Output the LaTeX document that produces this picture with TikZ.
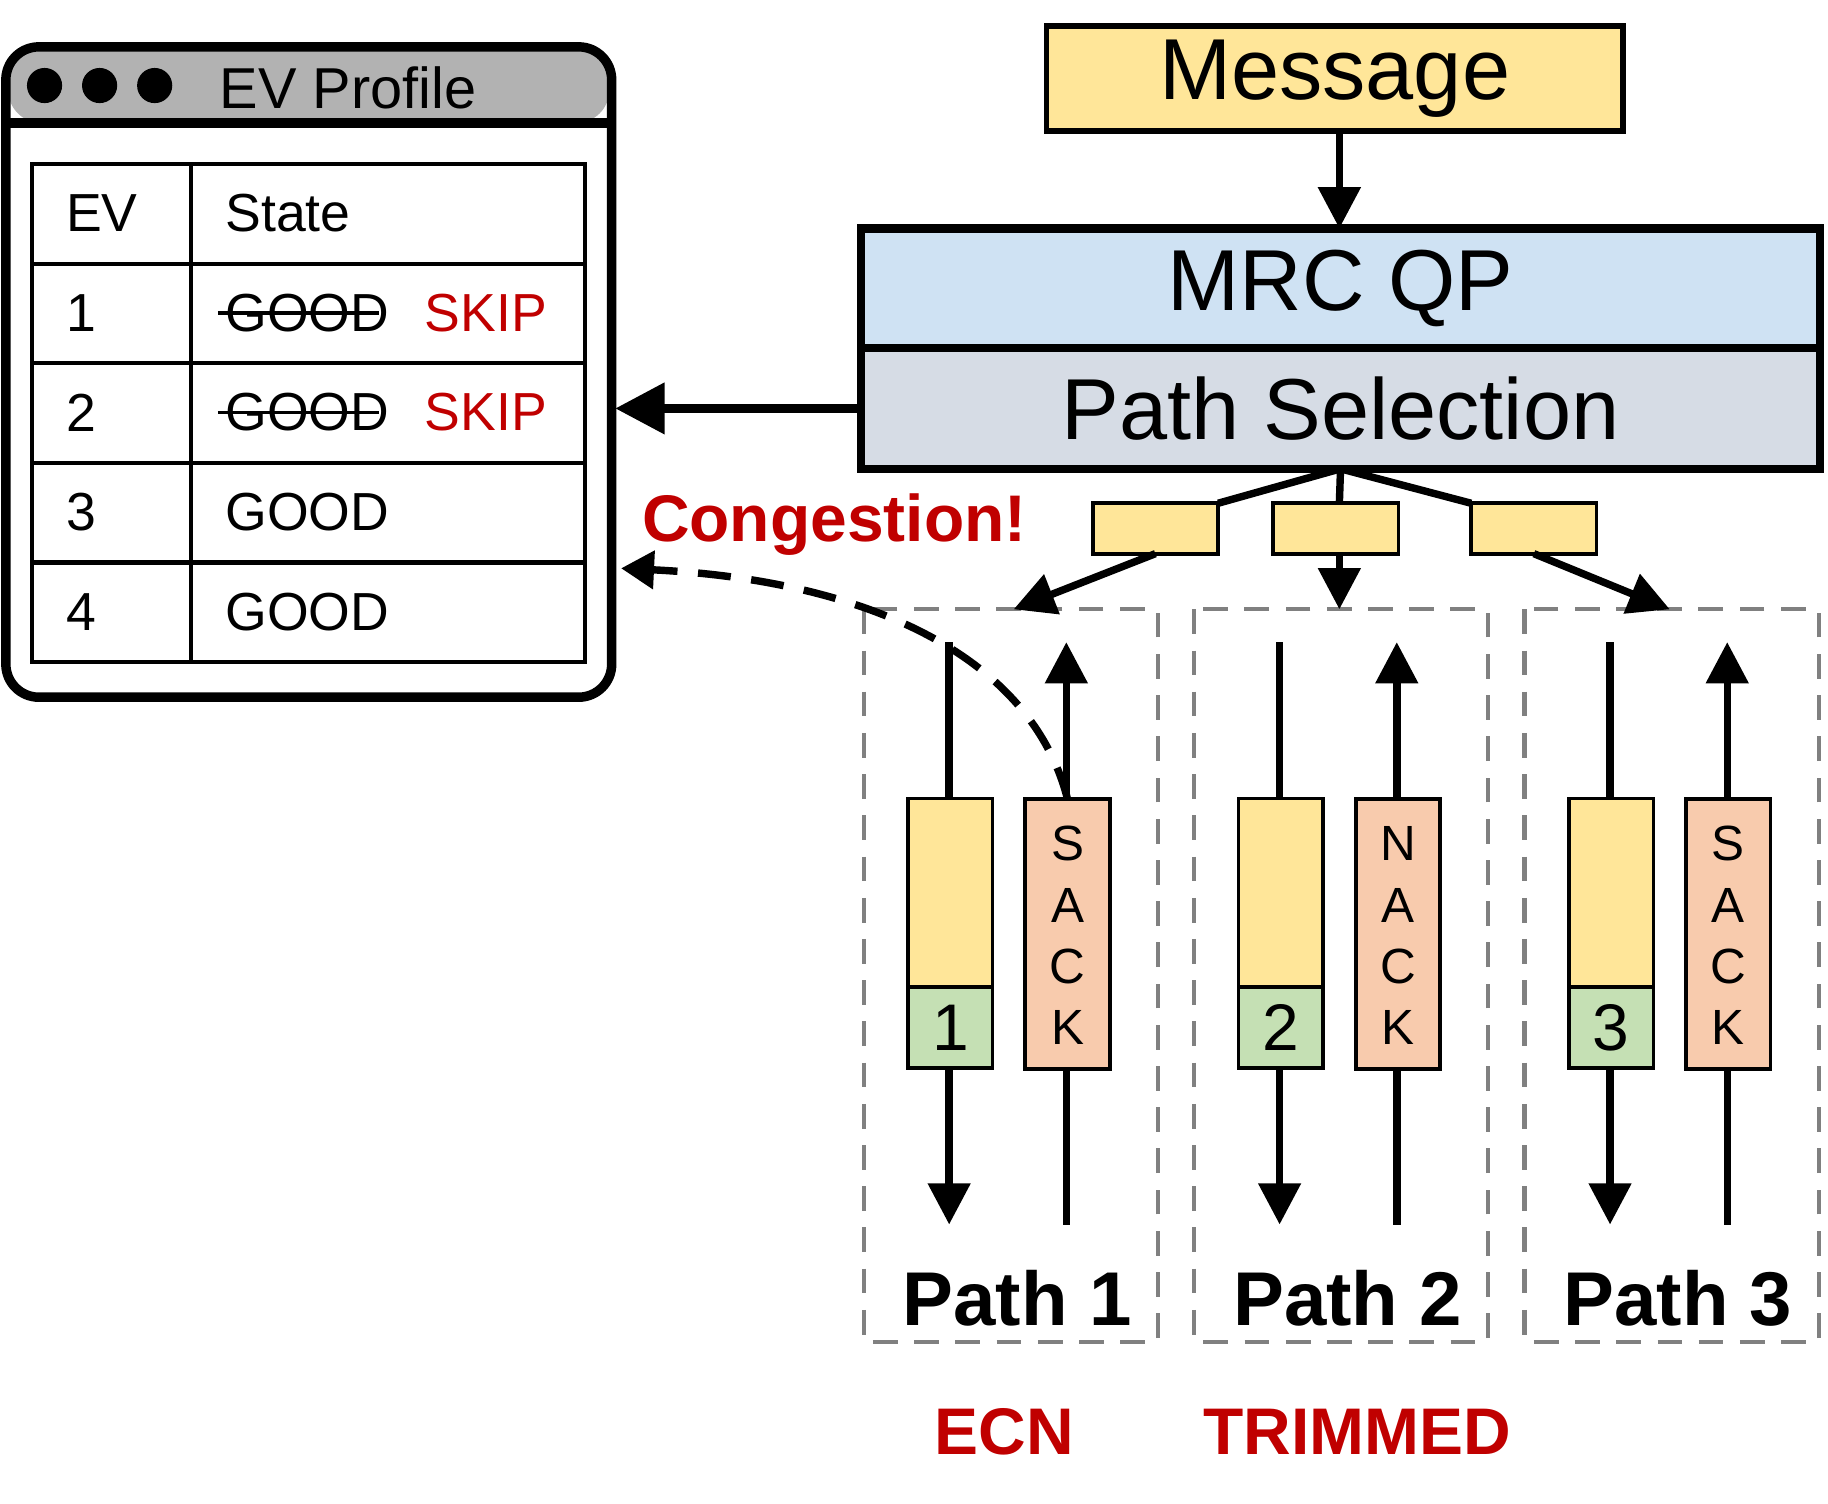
\documentclass[tikz,border=0pt]{standalone}
\usepackage{fontspec}
\setmainfont{Liberation Sans}
\usetikzlibrary{arrows.meta,positioning}
\definecolor{msgyellow}{HTML}{FFE699}
\definecolor{qpblue}{HTML}{CFE2F3}
\definecolor{selgray}{HTML}{D6DCE5}
\definecolor{seqgreen}{HTML}{C5E0B4}
\definecolor{ackorange}{HTML}{F8CBAD}
\definecolor{alertred}{HTML}{C00000}
\tikzset{
  cell/.style={anchor=west,font=\fontsize{13}{15}\selectfont},
  pkt/.style={draw,line width=0.9pt,minimum width=0.72cm,inner sep=0pt,outer sep=0pt},
  flow/.style={line width=1.8pt,-{Triangle[length=10pt,width=10pt]}},
  pathbox/.style={draw=gray,dashed,line width=1pt,dash pattern=on 6pt off 4pt},
  big/.style={font=\fontsize{21}{25}\selectfont,outer sep=0pt},
}
\begin{document}
\begin{tikzpicture}[x=0.01cm,y=-0.01cm]
 \useasboundingbox (0,0) rectangle (1560,1283);

 % EV profile window
 \fill[gray!60,rounded corners=8pt] (7,42) rectangle (520,105);
 \draw[line width=2.3pt] (5,105) -- (522,105);
 \draw[line width=2.3pt,rounded corners=8pt] (5,40) rectangle (522,595);
 \foreach \x in {38,85,132} \fill (\x,73) circle (15);
 \node[font=\fontsize{14}{16}\selectfont] (title) at (297,75) {EV Profile};

 % table
 \draw[line width=1pt] (27,140) rectangle (499,565);
 \draw[line width=1pt] (163,140) -- (163,565);
 \foreach \y in {225,310,395,480} \draw[line width=1pt] (27,\y) -- (499,\y);
 \node[cell] (hev) at (44,182) {EV};
 \node[cell] (hst) at (180,182) {State};
 \foreach \i/\y in {1/267,2/352,3/437,4/522} \node[cell] (ev\i) at (44,\y) {\i};
 \foreach \i/\y in {1/267,2/352} {
   \node[cell] (old\i) at (180,\y) {GOOD};
   \draw[line width=0.9pt] (old\i.west) ++(6,0) -- ([xshift=-6pt]old\i.east);
   \node[cell,text=alertred] (new\i) at (350,\y) {SKIP};
 }
 \foreach \i/\y in {3/437,4/522} \node[cell] (st\i) at (180,\y) {GOOD};

 % message and QP
 \node[draw,line width=1.3pt,fill=msgyellow,minimum width=4.92cm,minimum height=0.81cm,big] (msg) at (1139,67) {Message};
 \node[draw,line width=2pt,fill=qpblue,minimum width=8.18cm,minimum height=1.02cm,big] (qp) at (1144,246) {MRC QP};
 \node[draw,line width=2pt,fill=selgray,minimum width=8.18cm,minimum height=1.03cm,big,below=0pt of qp] (sel) {Path Selection};
 \draw[flow] (msg.south -| 1143,0) -- (qp.north -| 1143,0);
 \draw[line width=2.3pt,-{Triangle[length=12pt,width=12pt]}] (sel.west) -- (sel.west -| 525,0);

 % split packets
 \foreach \n/\x in {a/986,b/1140,c/1309}
   \node[pkt,fill=msgyellow,minimum width=1.07cm,minimum height=0.43cm] (sp\n) at (\x,451) {};
 \draw[line width=1.8pt] (sel.south) -- (spa.north east);
 \draw[line width=1.8pt] (sel.south) -- (spb.north -| 1143,0);
 \draw[line width=1.8pt] (sel.south) -- (spc.north west);

 % paths
 \foreach \k/\dx in {1/0,2/282,3/564} {
   \draw[pathbox] (737+\dx,520) rectangle (988+\dx,1145);
   \node[font=\fontsize{18.5}{22}\selectfont\bfseries] (plab\k) at (868+\dx,1108) {Path \k};
   \node[pkt,fill=msgyellow,minimum height=1.61cm] (data\k) at (811+\dx,762) {};
   \node[pkt,fill=seqgreen,minimum height=0.69cm,font=\fontsize{16}{18}\selectfont,below=0pt of data\k] (seq\k) {\k};
   \node[pkt,fill=ackorange,minimum height=2.30cm] (ack\k) at (911+\dx,797) {};
   \coordinate (dtop\k) at (810+\dx,548);
   \coordinate (dbot\k) at (810+\dx,1045);
   \coordinate (atop\k) at (910+\dx,548);
   \coordinate (abot\k) at (910+\dx,1045);
   \draw[line width=1.8pt] (dtop\k) -- (data\k.north -| dtop\k);
   \draw[flow] (seq\k.south -| dtop\k) -- (dbot\k);
   \draw[line width=1.8pt] (abot\k) -- (ack\k.south -| abot\k);
   \draw[flow] (ack\k.north -| atop\k) -- (atop\k);
 }
 \foreach \k/\a/\b/\c/\d in {1/S/A/C/K,2/N/A/C/K,3/S/A/C/K}
   \foreach \l/\y in {\a/720,\b/773,\c/825,\d/877}
     \node[font=\fontsize{12}{14}\selectfont] at (ack\k.north |- 0,\y) {\l};

 \draw[flow] (spa.south) -- (865,520);
 \draw[flow] (spb.south -| 1143,0) -- (1143,520);
 \draw[flow] (spc.south) -- (1425,520);

 % congestion feedback
 \node[font=\fontsize{16}{19}\selectfont\bfseries,text=alertred] (cong) at (712,448) {Congestion!};
 \draw[line width=1.8pt,dash pattern=on 8pt off 5pt,-{Triangle[length=8pt,width=9pt]}]
   (ack1.north) .. controls (880,560) and (740,495) .. (530,485);
 \node[font=\fontsize{16}{19}\selectfont\bfseries,text=alertred] (ecn) at (857,1222) {ECN};
 \node[font=\fontsize{16}{19}\selectfont\bfseries,text=alertred] (trim) at (1158,1222) {TRIMMED};
\end{tikzpicture}
\end{document}
